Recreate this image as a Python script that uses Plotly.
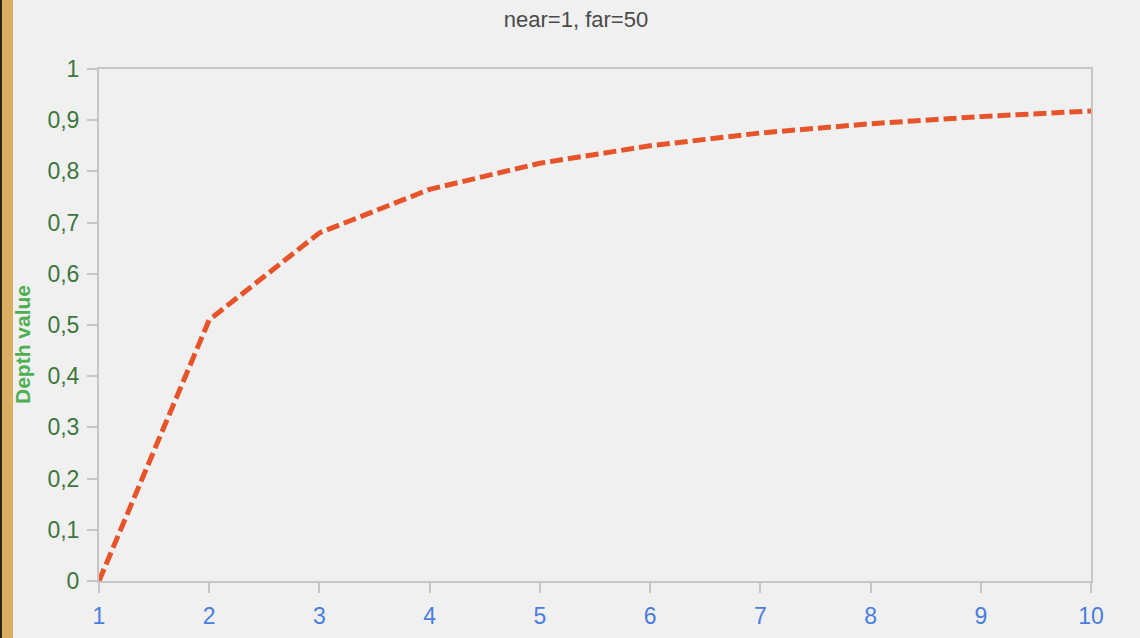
import plotly.graph_objects as go

# Data
distance = [1, 2, 3, 4, 5, 6, 7, 8, 9, 10]
depth_value = [0.0, 0.510, 0.680, 0.765, 0.816, 0.850, 0.875, 0.893, 0.907, 0.918]
y_ticks = [0, 0.1, 0.2, 0.3, 0.4, 0.5, 0.6, 0.7, 0.8, 0.9, 1]
title_text = "near=1, far=50"
y_title = "Depth value"

W, H = 1140, 638
L, R, T, B = 99, 49, 69, 57
pw = W - L - R
ph = H - T - B

fig = go.Figure()
fig.add_trace(go.Scatter(
    x=distance, y=depth_value, mode="lines",
    line=dict(color="#e8542a", width=5, dash="13px,5px"),
    hoverinfo="x+y", showlegend=False,
))

axis_common = dict(
    showgrid=False, zeroline=False, showline=True, linecolor="#c6c6c6", linewidth=2,
    mirror=True, ticks="outside", ticklen=10, tickwidth=2, tickcolor="#c6c6c6",
    automargin=False,
)
fig.update_xaxes(range=[1, 10], tickvals=distance, **axis_common, ticklabelstandoff=3,
                 tickfont=dict(family="Arial, Liberation Sans", size=23, color="#4a7de0"))
fig.update_yaxes(range=[0, 1], tickvals=y_ticks, **axis_common,
                 tickformat=".1~f", ticklabelstandoff=3,
                 tickfont=dict(family="Arial, Liberation Sans", size=23, color="#3d773d"))

# left decorative strip (dark edge + gold band)
fig.add_shape(type="rect", xref="paper", yref="paper", layer="below",
              x0=-L / pw, x1=(-L + 2) / pw, y0=-2, y1=3,
              fillcolor="#2a2418", line_width=0)
fig.add_shape(type="rect", xref="paper", yref="paper", layer="below",
              x0=(-L + 2) / pw, x1=(-L + 13) / pw, y0=-2, y1=3,
              fillcolor="#d9ad62", line_width=0)

fig.add_annotation(text=y_title, xref="paper", yref="paper",
                   x=(22 - L) / pw, y=(H - B - 345) / ph,
                   xanchor="center", yanchor="middle", textangle=-90, showarrow=False,
                   font=dict(family="Arial, Liberation Sans", size=21, color="#4caf50", weight="bold"))

fig.update_layout(
    width=W, height=H,
    margin=dict(l=L, r=R, t=T, b=B, autoexpand=False),
    paper_bgcolor="#f0f0f0", plot_bgcolor="#f0f0f0",
    separators=", ",
    title=dict(text=title_text, x=(576 - L) / pw, xref="paper", xanchor="center",
               y=1 - 19 / H, yanchor="middle",
               font=dict(family="Liberation Sans, Arial", size=22, color="#4a4a4a")),
)

fig.write_html("out.html", config={"displayModeBar": False},
               post_script="document.body.style.margin='0';document.body.style.background='#f0f0f0';")
